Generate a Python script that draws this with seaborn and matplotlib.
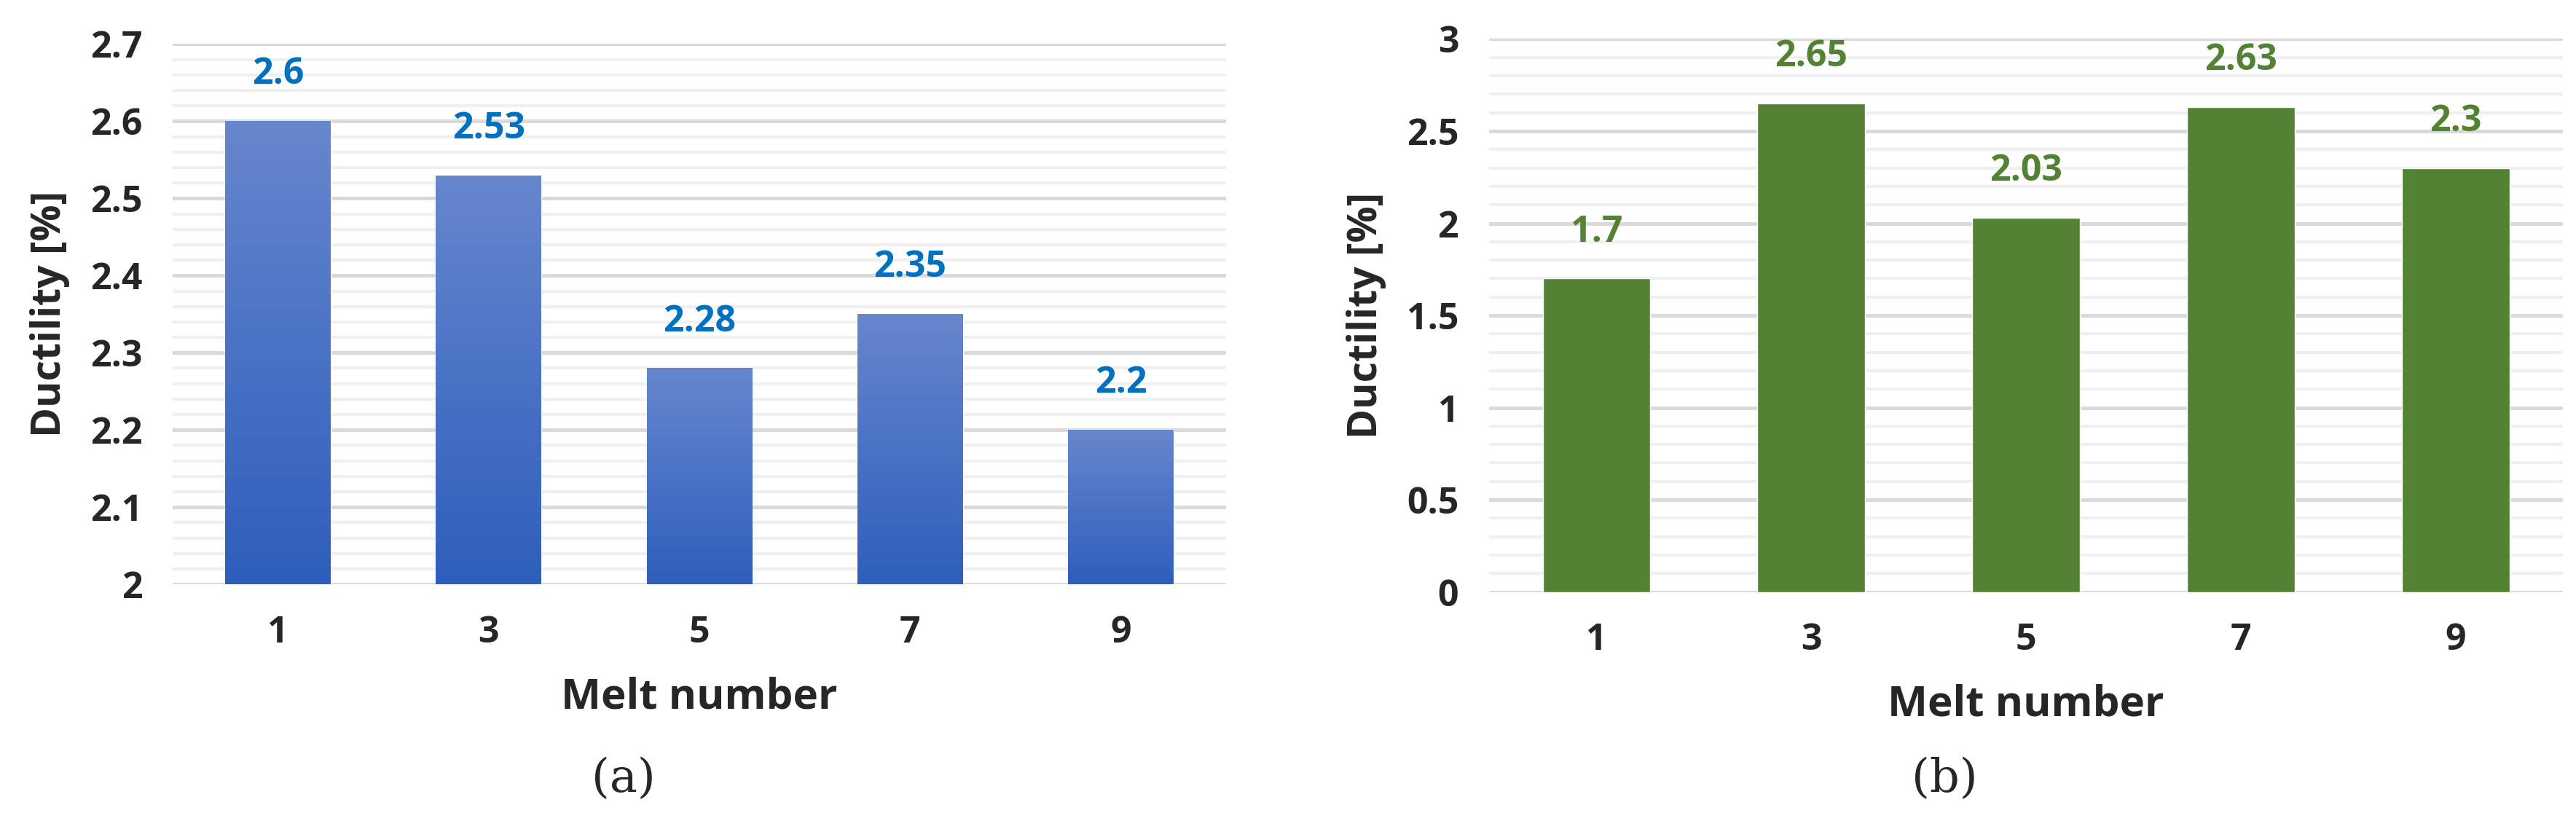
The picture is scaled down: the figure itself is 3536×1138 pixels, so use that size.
import numpy as np
import pandas as pd
import matplotlib.pyplot as plt
import seaborn as sns
from matplotlib.ticker import MultipleLocator

sns.set_theme(style="white")
plt.rcParams['font.family'] = ['Open Sans', 'DejaVu Sans']

# ==================== DATA ====================
melts = ["1", "3", "5", "7", "9"]
ductility_a = [2.6, 2.53, 2.28, 2.35, 2.2]
ductility_b = [1.7, 2.65, 2.03, 2.63, 2.3]

df_a = pd.DataFrame({"melt": melts, "ductility": ductility_a})
df_b = pd.DataFrame({"melt": melts, "ductility": ductility_b})

fig = plt.figure(figsize=(35.36, 11.38), dpi=100)
ax_a = fig.add_axes([0.067, 0.295, 0.409, 0.652])
ax_b = fig.add_axes([0.578, 0.286, 0.417, 0.667])


def style_axis(ax, ylim, major, minor):
    ax.set_ylim(*ylim)
    ax.yaxis.set_major_locator(MultipleLocator(major))
    ax.yaxis.set_minor_locator(MultipleLocator(minor))
    ax.grid(which="major", axis="y", color="#D9D9D9", lw=3.5, zorder=0)
    ax.grid(which="minor", axis="y", color="#F0F0F0", lw=3, zorder=0)
    ax.set_axisbelow(True)
    for s in ax.spines.values():
        s.set_visible(False)
    ax.tick_params(axis="both", which="both", length=0, labelsize=36, pad=30)
    for t in ax.get_xticklabels() + ax.get_yticklabels():
        t.set_fontweight("bold")
    ax.set_xlabel("Melt number", fontsize=42, fontweight="bold", labelpad=25)
    ax.set_ylabel("Ductility [%]", fontsize=40, fontweight="bold", labelpad=20)


# (a) gradient blue bars
sns.barplot(data=df_a, x="melt", y="ductility", color="#3F6DC8", width=0.5,
            ax=ax_a, zorder=2)
style_axis(ax_a, (2.0, 2.7), 0.1, 0.02)
ax_a.yaxis.set_major_formatter(plt.FuncFormatter(lambda v, p: f"{v:g}"))
grad = np.linspace(0, 1, 256).reshape(-1, 1)
cmap = sns.blend_palette(["#2E5EBC", "#6687CD"], as_cmap=True)
for p in ax_a.patches:
    x0, w, h = p.get_x(), p.get_width(), p.get_height()
    im = ax_a.imshow(grad, cmap=cmap, aspect="auto", origin="lower",
                     extent=[x0, x0 + w, 2.0, h], zorder=3)
    im.set_clip_path(p)
    ax_a.annotate(f"{h:g}", (x0 + w / 2, h), xytext=(0, 28), textcoords="offset points",
                  ha="center", va="bottom", fontsize=36, fontweight="bold", color="#0070C0")
ax_a.set_xlim(-0.5, 4.5)
ax_a.set_ylim(2.0, 2.7)

# (b) green bars
sns.barplot(data=df_b, x="melt", y="ductility", color="#548235", width=0.5,
            ax=ax_b, zorder=2, saturation=1)
style_axis(ax_b, (0, 3), 0.5, 0.1)
ax_b.yaxis.set_major_formatter(plt.FuncFormatter(lambda v, p: f"{v:g}"))
for p in ax_b.patches:
    x0, w, h = p.get_x(), p.get_width(), p.get_height()
    ax_b.annotate(f"{h:g}", (x0 + w / 2, h), xytext=(0, 28), textcoords="offset points",
                  ha="center", va="bottom", fontsize=36, fontweight="bold", color="#548235")

fig.text(0.242, 0.045, "(a)", fontsize=46, family="DejaVu Serif", ha="center")
fig.text(0.755, 0.045, "(b)", fontsize=46, family="DejaVu Serif", ha="center")

fig.savefig("out.png", dpi=100)
